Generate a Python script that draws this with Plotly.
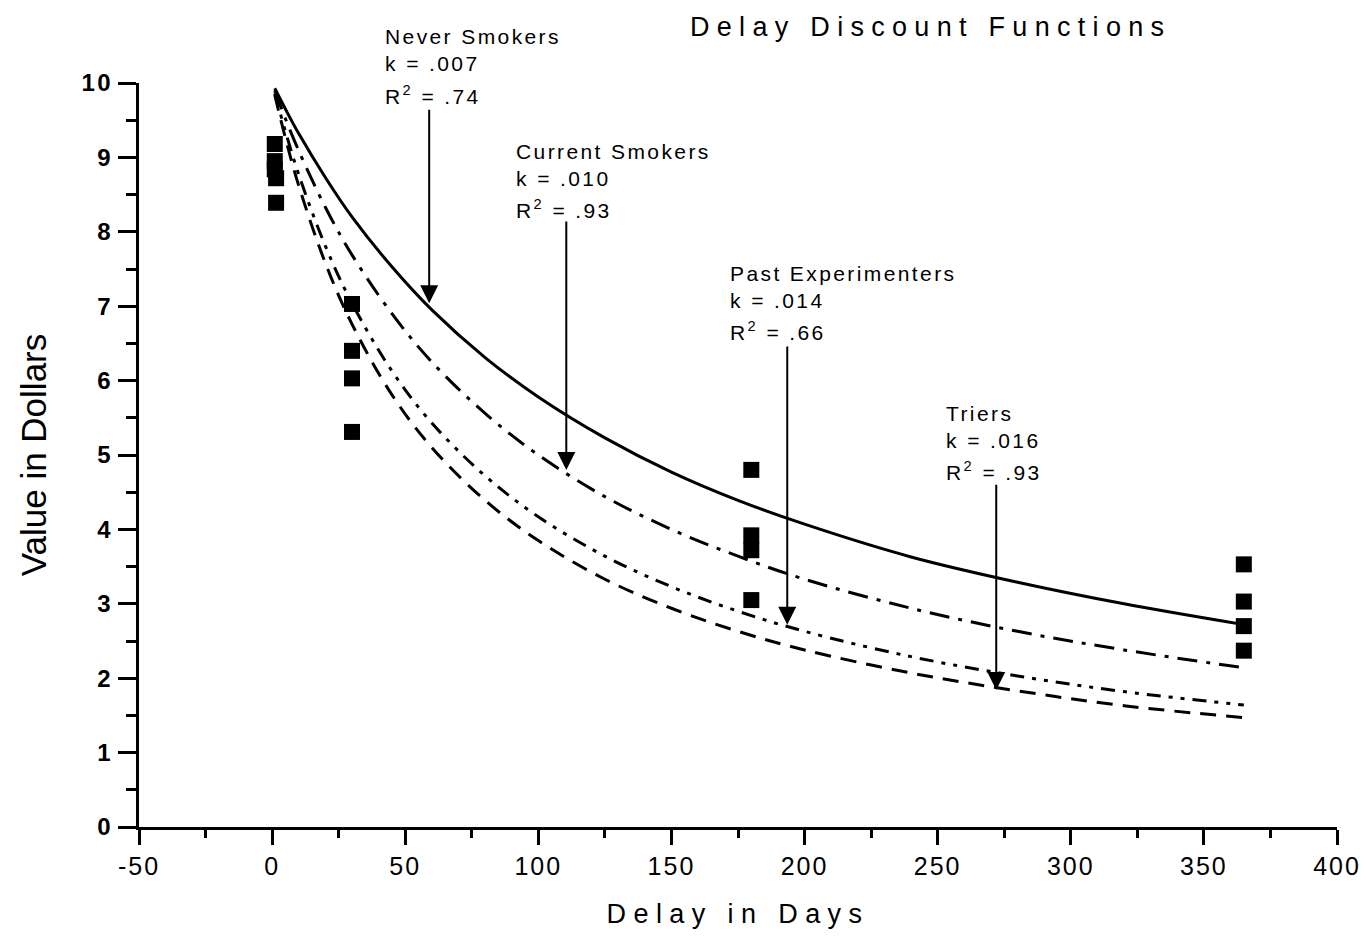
import plotly.graph_objects as go

# ---- data ----
delay_days = [1, 5, 10, 20, 30, 45, 60, 80, 100, 125, 150, 175, 200, 240, 280, 320, 365]
never_smokers = [9.93, 9.65, 9.32, 8.73, 8.20, 7.53, 6.95, 6.31, 5.78, 5.23, 4.77, 4.39, 4.07, 3.63, 3.29, 3.00, 2.72]
current_smokers = [9.90, 9.52, 9.09, 8.33, 7.69, 6.90, 6.25, 5.56, 5.00, 4.44, 4.00, 3.64, 3.33, 2.94, 2.63, 2.38, 2.14]
past_experimenters = [9.86, 9.35, 8.77, 7.81, 7.04, 6.13, 5.43, 4.72, 4.17, 3.64, 3.23, 2.90, 2.63, 2.29, 2.03, 1.82, 1.64]
triers = [9.84, 9.26, 8.62, 7.58, 6.76, 5.81, 5.10, 4.39, 3.85, 3.33, 2.94, 2.63, 2.38, 2.07, 1.83, 1.63, 1.47]

obs_delay = [1, 1, 1, 1.5, 1.5, 30, 30, 30, 30, 180, 180, 180, 180, 365, 365, 365, 365]
obs_value = [9.18, 8.95, 8.84, 8.72, 8.39, 7.03, 6.40, 6.03, 5.31, 4.80, 3.92, 3.72, 3.05, 3.53, 3.03, 2.70, 2.37]

group_names = ["Never Smokers", "Current Smokers", "Past Experimenters", "Triers"]
group_k = [".007", ".010", ".014", ".016"]
group_r2 = [".74", ".93", ".66", ".93"]
# label anchor (left x in days, y of first line in dollars) and arrow (x, tail y, tip y)
label_x = [41.7, 90.9, 171.3, 252.4]
label_y = [10.62, 9.08, 7.44, 5.56]
arrow_x = [59, 110.5, 193.5, 272]
arrow_tail = [9.66, 8.16, 6.48, 4.62]
arrow_tip = [7.04, 4.80, 2.72, 1.84]

x_ticks = [-50, 0, 50, 100, 150, 200, 250, 300, 350, 400]
y_ticks = [0, 1, 2, 3, 4, 5, 6, 7, 8, 9, 10]

X_RANGE = [-50, 400]
Y_RANGE = [0, 10]

FONT = "Liberation Sans, Arial, sans-serif"


def px(xv):
    return (xv - X_RANGE[0]) / (X_RANGE[1] - X_RANGE[0])


def py(yv):
    return (yv - Y_RANGE[0]) / (Y_RANGE[1] - Y_RANGE[0])


fig = go.Figure()

styles = [
    (never_smokers, "solid"),
    (current_smokers, "20px,9px,4px,9px"),
    (past_experimenters, "14px,8px,4px,8px,4px,8px"),
    (triers, "16px,10px"),
]
for (vals, dash), name in zip(styles, group_names):
    fig.add_trace(go.Scatter(
        x=delay_days, y=vals, mode="lines", name=name,
        line=dict(color="black", width=3, dash=dash, shape="spline"),
        showlegend=False,
    ))

fig.add_trace(go.Scatter(
    x=obs_delay, y=obs_value, mode="markers",
    marker=dict(symbol="square", size=16, color="black"),
    showlegend=False,
))

offs = [0, 0.36, 0.78]
for i in range(4):
    lines = [group_names[i], "k = " + group_k[i], "R<sup>2</sup> = " + group_r2[i]]
    for txt, off in zip(lines, offs):
        fig.add_annotation(
            x=px(label_x[i]), y=py(label_y[i] - off), xref="paper", yref="paper",
            text=txt, showarrow=False, xanchor="left", yanchor="middle",
            font=dict(family=FONT, size=21, color="black"),
        )
    fig.add_annotation(
        x=arrow_x[i], y=arrow_tip[i], ax=arrow_x[i], ay=arrow_tail[i],
        xref="x", yref="y", axref="x", ayref="y",
        text="", showarrow=True, arrowhead=2, arrowsize=1.8, arrowwidth=2,
        arrowcolor="black",
    )

fig.update_layout(
    width=1366, height=938,
    margin=dict(l=139, r=29, t=83, b=111),
    plot_bgcolor="white", paper_bgcolor="white",
    font=dict(family=FONT, color="black"),
    title=dict(
        text="Delay Discount Functions", x=(690 - 139) / 1198, xref="paper", xanchor="left",
        y=1 - 27 / 938, yref="container", yanchor="middle",
        font=dict(family=FONT, size=27, color="black"),
    ),
    xaxis=dict(
        range=X_RANGE, tickvals=x_ticks, ticktext=[str(v) for v in x_ticks],
        showgrid=False, zeroline=False, showline=True, linecolor="black", linewidth=3,
        ticks="outside", ticklen=15, tickwidth=3, tickcolor="black",
        minor=dict(dtick=25, tick0=-50, ticks="outside", ticklen=8, tickwidth=3, tickcolor="black", showgrid=False),
        tickfont=dict(family=FONT, size=25, color="black"),
        automargin=False,
        title=dict(text="Delay in Days", font=dict(family=FONT, size=27, color="black"), standoff=26),
    ),
    yaxis=dict(
        range=Y_RANGE, tickvals=y_ticks, ticktext=[str(v) for v in y_ticks],
        showgrid=False, zeroline=False, showline=True, linecolor="black", linewidth=3,
        ticks="outside", ticklen=18, tickwidth=3, tickcolor="black",
        minor=dict(dtick=0.5, tick0=0, ticks="outside", ticklen=10, tickwidth=3, tickcolor="black", showgrid=False),
        tickfont=dict(family=FONT, size=24, color="black", weight="bold"),
        automargin=False,
        title=dict(text="Value in Dollars", font=dict(family=FONT, size=35, color="black"), standoff=30),
    ),
)

post = """
document.body.style.margin = '0';
function spaceText(e, sp, keepLeft){
  var before = e.getComputedTextLength();
  e.style.letterSpacing = sp;
  if (keepLeft) {
    var after = e.getComputedTextLength();
    var xa = parseFloat(e.getAttribute('x') || '0');
    e.setAttribute('x', xa + (after - before) / 2);
  }
}
document.querySelectorAll('.gtitle').forEach(function(e){spaceText(e, '7.3px', false);});
document.querySelectorAll('.xtitle').forEach(function(e){spaceText(e, '7.4px', false);});
document.querySelectorAll('.annotation-text').forEach(function(e){spaceText(e, '2.4px', true);});
document.querySelectorAll('.xtick text').forEach(function(e){spaceText(e, '2px', false);});
document.querySelectorAll('.ytick text').forEach(function(e){spaceText(e, '2.5px', false);});
"""

fig.write_html("out.html", post_script=post, config={"displayModeBar": False})
